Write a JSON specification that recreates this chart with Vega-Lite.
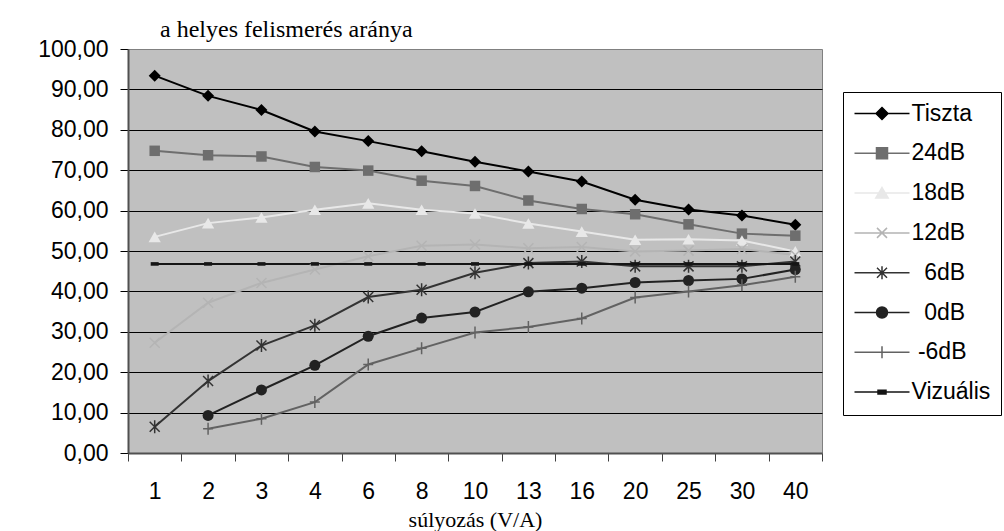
{
  "$schema": "https://vega.github.io/schema/vega-lite/v6.json",
  "width": 694,
  "height": 404,
  "autosize": {"type": "none"},
  "padding": {"left": 128, "top": 49, "right": 182, "bottom": 78},
  "background": "white",
  "title": {
    "text": "a helyes felismerés aránya",
    "anchor": "start",
    "frame": "group",
    "dx": 32,
    "dy": 24,
    "offset": 1,
    "baseline": "alphabetic",
    "font": "Liberation Serif",
    "fontSize": 24,
    "fontWeight": "normal",
    "color": "black"
  },
  "data": {
    "values": [
      {"w": 1, "s": "Tiszta", "v": 93.4}, {"w": 2, "s": "Tiszta", "v": 88.4}, {"w": 3, "s": "Tiszta", "v": 84.9}, {"w": 4, "s": "Tiszta", "v": 79.6}, {"w": 6, "s": "Tiszta", "v": 77.2}, {"w": 8, "s": "Tiszta", "v": 74.7}, {"w": 10, "s": "Tiszta", "v": 72.1}, {"w": 13, "s": "Tiszta", "v": 69.7}, {"w": 16, "s": "Tiszta", "v": 67.2}, {"w": 20, "s": "Tiszta", "v": 62.7}, {"w": 25, "s": "Tiszta", "v": 60.3}, {"w": 30, "s": "Tiszta", "v": 58.8}, {"w": 40, "s": "Tiszta", "v": 56.5},
      {"w": 1, "s": "24dB", "v": 74.8}, {"w": 2, "s": "24dB", "v": 73.7}, {"w": 3, "s": "24dB", "v": 73.4}, {"w": 4, "s": "24dB", "v": 70.8}, {"w": 6, "s": "24dB", "v": 69.9}, {"w": 8, "s": "24dB", "v": 67.4}, {"w": 10, "s": "24dB", "v": 66.1}, {"w": 13, "s": "24dB", "v": 62.5}, {"w": 16, "s": "24dB", "v": 60.4}, {"w": 20, "s": "24dB", "v": 59.1}, {"w": 25, "s": "24dB", "v": 56.6}, {"w": 30, "s": "24dB", "v": 54.3}, {"w": 40, "s": "24dB", "v": 53.8},
      {"w": 1, "s": "18dB", "v": 53.5}, {"w": 2, "s": "18dB", "v": 56.9}, {"w": 3, "s": "18dB", "v": 58.3}, {"w": 4, "s": "18dB", "v": 60.2}, {"w": 6, "s": "18dB", "v": 61.8}, {"w": 8, "s": "18dB", "v": 60.2}, {"w": 10, "s": "18dB", "v": 59.3}, {"w": 13, "s": "18dB", "v": 56.8}, {"w": 16, "s": "18dB", "v": 54.8}, {"w": 20, "s": "18dB", "v": 52.8}, {"w": 25, "s": "18dB", "v": 52.9}, {"w": 30, "s": "18dB", "v": 52.6}, {"w": 40, "s": "18dB", "v": 49.9},
      {"w": 1, "s": "12dB", "v": 27.3}, {"w": 2, "s": "12dB", "v": 37.2}, {"w": 3, "s": "12dB", "v": 42.1}, {"w": 4, "s": "12dB", "v": 45.4}, {"w": 6, "s": "12dB", "v": 48.7}, {"w": 8, "s": "12dB", "v": 51.3}, {"w": 10, "s": "12dB", "v": 51.6}, {"w": 13, "s": "12dB", "v": 50.7}, {"w": 16, "s": "12dB", "v": 51.0}, {"w": 20, "s": "12dB", "v": 49.9}, {"w": 25, "s": "12dB", "v": 50.1}, {"w": 30, "s": "12dB", "v": 50.5}, {"w": 40, "s": "12dB", "v": 49.0},
      {"w": 1, "s": "6dB", "v": 6.5}, {"w": 2, "s": "6dB", "v": 17.8}, {"w": 3, "s": "6dB", "v": 26.6}, {"w": 4, "s": "6dB", "v": 31.6}, {"w": 6, "s": "6dB", "v": 38.6}, {"w": 8, "s": "6dB", "v": 40.4}, {"w": 10, "s": "6dB", "v": 44.6}, {"w": 13, "s": "6dB", "v": 47.0}, {"w": 16, "s": "6dB", "v": 47.4}, {"w": 20, "s": "6dB", "v": 46.2}, {"w": 25, "s": "6dB", "v": 46.2}, {"w": 30, "s": "6dB", "v": 46.2}, {"w": 40, "s": "6dB", "v": 47.4},
      {"w": 2, "s": "0dB", "v": 9.3}, {"w": 3, "s": "0dB", "v": 15.6}, {"w": 4, "s": "0dB", "v": 21.7}, {"w": 6, "s": "0dB", "v": 28.9}, {"w": 8, "s": "0dB", "v": 33.4}, {"w": 10, "s": "0dB", "v": 34.9}, {"w": 13, "s": "0dB", "v": 39.9}, {"w": 16, "s": "0dB", "v": 40.8}, {"w": 20, "s": "0dB", "v": 42.2}, {"w": 25, "s": "0dB", "v": 42.7}, {"w": 30, "s": "0dB", "v": 43.1}, {"w": 40, "s": "0dB", "v": 45.4},
      {"w": 2, "s": "-6dB", "v": 6.0}, {"w": 3, "s": "-6dB", "v": 8.5}, {"w": 4, "s": "-6dB", "v": 12.6}, {"w": 6, "s": "-6dB", "v": 21.9}, {"w": 8, "s": "-6dB", "v": 25.9}, {"w": 10, "s": "-6dB", "v": 29.8}, {"w": 13, "s": "-6dB", "v": 31.2}, {"w": 16, "s": "-6dB", "v": 33.3}, {"w": 20, "s": "-6dB", "v": 38.5}, {"w": 25, "s": "-6dB", "v": 40.0}, {"w": 30, "s": "-6dB", "v": 41.5}, {"w": 40, "s": "-6dB", "v": 43.6},
      {"w": 1, "s": "Vizuális", "v": 46.8}, {"w": 2, "s": "Vizuális", "v": 46.8}, {"w": 3, "s": "Vizuális", "v": 46.8}, {"w": 4, "s": "Vizuális", "v": 46.8}, {"w": 6, "s": "Vizuális", "v": 46.8}, {"w": 8, "s": "Vizuális", "v": 46.8}, {"w": 10, "s": "Vizuális", "v": 46.8}, {"w": 13, "s": "Vizuális", "v": 46.8}, {"w": 16, "s": "Vizuális", "v": 46.8}, {"w": 20, "s": "Vizuális", "v": 46.8}, {"w": 25, "s": "Vizuális", "v": 46.8}, {"w": 30, "s": "Vizuális", "v": 46.8}, {"w": 40, "s": "Vizuális", "v": 46.8}
    ]
  },
  "encoding": {
    "x": {
      "field": "w",
      "type": "ordinal",
      "scale": {"type": "band", "paddingInner": 0, "paddingOuter": 0},
      "axis": {
        "title": "súlyozás (V/A)",
        "labelAngle": 0,
        "tickBand": "extent",
        "tickSize": 8,
        "tickColor": "#404040",
        "labelPadding": 19,
        "titlePadding": 6,
        "domainColor": "#505050",
        "domainWidth": 2,
        "grid": false
      }
    },
    "y": {
      "field": "v",
      "type": "quantitative",
      "scale": {"domain": [0, 100], "nice": false, "zero": true},
      "axis": {
        "title": null,
        "values": [0, 10, 20, 30, 40, 50, 60, 70, 80, 90, 100],
        "labelExpr": "replace(format(datum.value, '.2f'), '.', ',')",
        "tickSize": 8,
        "tickColor": "black",
        "labelPadding": 12,
        "domainColor": "#505050",
        "domainWidth": 2,
        "grid": true,
        "gridColor": {"condition": {"test": "datum.value === 0 || datum.value === 100", "value": "transparent"}, "value": "black"},
        "gridWidth": 1
      }
    },
    "color": {
      "field": "s",
      "type": "nominal",
      "scale": {
        "domain": ["Tiszta", "24dB", "18dB", "12dB", "6dB", "0dB", "-6dB", "Vizuális"],
        "range": ["#000000", "#6e6e6e", "#e8e8e8", "#b4b4b4", "#333333", "#222222", "#626262", "#151515"]
      },
      "legend": {
        "title": null,
        "labelExpr": "datum.value === '6dB' || datum.value === '0dB' ? '\u200b\u00a0\u00a0' + datum.label : datum.value === '-6dB' ? '\u200b\u00a0' + datum.label : datum.label"
      }
    }
  },
  "layer": [
    {
      "mark": {"type": "line", "strokeWidth": 2}
    },
    {
      "transform": [{"filter": "false"}],
      "mark": {"type": "point", "filled": true, "opacity": 1},
      "encoding": {
        "shape": {
          "field": "s",
          "type": "nominal",
          "scale": {
            "domain": ["Tiszta", "24dB", "18dB", "12dB", "6dB", "0dB", "-6dB", "Vizuális"],
            "range": [
              "M-2.75,0H2.75M0,-0.6L0.6,0L0,0.6L-0.6,0Z",
              "M-2.75,0H2.75M-0.55,-0.55H0.55V0.55H-0.55Z",
              "M-2.75,0H2.75M0,-0.55L0.62,0.5L-0.62,0.5Z",
              "M-2.75,0H2.75M-0.5,-0.5L0.5,0.5M-0.5,0.5L0.5,-0.5",
              "M-2.75,0H2.75M-0.5,-0.5L0.5,0.5M-0.5,0.5L0.5,-0.5M0,-0.65V0.65",
              "M-2.75,0H2.75M-0.55,0A0.55,0.55,0,1,0,0.55,0A0.55,0.55,0,1,0,-0.55,0Z",
              "M-2.75,0H2.75M0,-0.6V0.6",
              "M-2.75,0H2.75M-0.4,-0.18H0.4V0.18H-0.4Z"
            ]
          },
          "legend": {
            "title": null,
            "labelExpr": "datum.value === '6dB' || datum.value === '0dB' ? '\u200b\u00a0\u00a0' + datum.label : datum.value === '-6dB' ? '\u200b\u00a0' + datum.label : datum.label"
          }
        }
      }
    },
    {
      "transform": [{"filter": "datum.s === 'Tiszta'"}],
      "mark": {"type": "point", "filled": true, "opacity": 1, "shape": "diamond", "size": 144}
    },
    {
      "transform": [{"filter": "datum.s === '24dB'"}],
      "mark": {"type": "point", "filled": true, "opacity": 1, "shape": "square", "size": 110}
    },
    {
      "transform": [{"filter": "datum.s === '18dB'"}],
      "mark": {"type": "point", "filled": true, "opacity": 1, "shape": "triangle-up", "size": 150}
    },
    {
      "transform": [{"filter": "datum.s === '12dB'"}],
      "mark": {"type": "point", "filled": false, "opacity": 1, "strokeWidth": 1.5, "shape": "M-1,-1L1,1M-1,1L1,-1", "size": 100}
    },
    {
      "transform": [{"filter": "datum.s === '6dB'"}],
      "mark": {"type": "point", "filled": false, "opacity": 1, "strokeWidth": 1.5, "shape": "M-1,-1L1,1M-1,1L1,-1M0,-1.3V1.3", "size": 100}
    },
    {
      "transform": [{"filter": "datum.s === '0dB'"}],
      "mark": {"type": "point", "filled": true, "opacity": 1, "shape": "circle", "size": 121}
    },
    {
      "transform": [{"filter": "datum.s === '-6dB'"}],
      "mark": {"type": "point", "filled": false, "opacity": 1, "strokeWidth": 1.5, "shape": "M-1,0H1M0,-1.2V1.2", "size": 100}
    },
    {
      "transform": [{"filter": "datum.s === 'Vizuális'"}],
      "mark": {"type": "point", "filled": true, "opacity": 1, "shape": "M-1,-0.45H1V0.45H-1Z", "size": 64}
    }
  ],
  "config": {
    "view": {"fill": "#c0c0c0", "stroke": "#808080", "strokeWidth": 1},
    "axis": {
      "labelFont": "Liberation Sans",
      "labelFontSize": 23,
      "labelColor": "black",
      "titleFont": "Liberation Serif",
      "titleFontSize": 22,
      "titleFontWeight": "normal",
      "titleColor": "black"
    },
    "legend": {
      "orient": "none",
      "legendX": 715,
      "legendY": 43,
      "strokeColor": "black",
      "fillColor": "white",
      "padding": 10,
      "rowPadding": 15.8,
      "symbolSize": 400,
      "symbolOffset": 17.5,
      "symbolStrokeWidth": 1.5,
      "symbolOpacity": 1,
      "labelOffset": 18,
      "labelFont": "Liberation Sans",
      "labelFontSize": 23,
      "labelColor": "black"
    }
  }
}
